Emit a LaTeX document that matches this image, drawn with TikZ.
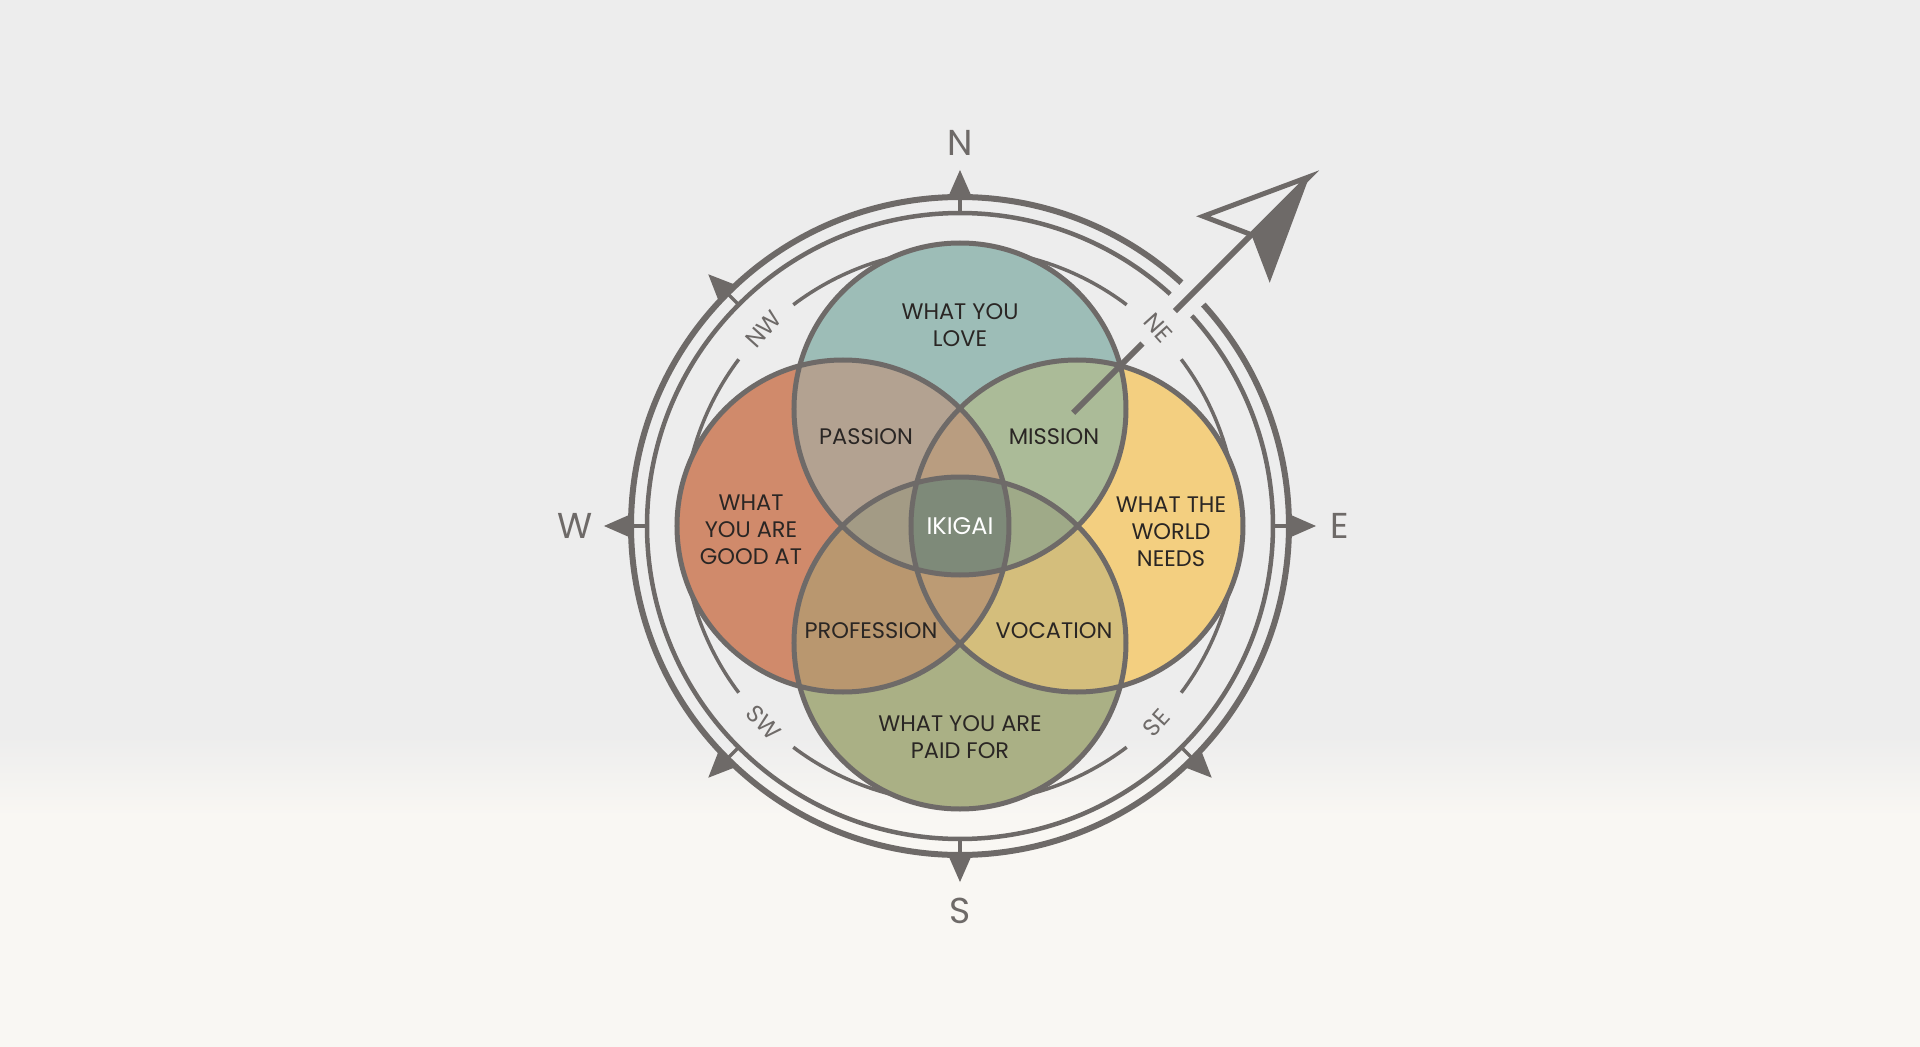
\documentclass[tikz,border=0pt]{standalone}
\usepackage{fontspec}
\setmainfont{Poppins}
\usepackage{xcolor}
\usepackage{tikz}
\usetikzlibrary{positioning,calc}
\definecolor{cLine}{HTML}{6E6A68}
\definecolor{cText}{HTML}{2A2624}
\definecolor{cBgTop}{HTML}{EDEDED}
\definecolor{cBgBot}{HTML}{F9F7F3}
\definecolor{cLove}{HTML}{9DBDB7}
\definecolor{cGood}{HTML}{D08A6B}
\definecolor{cWorld}{HTML}{F3CF80}
\definecolor{cPaid}{HTML}{AAB085}
\definecolor{cPassion}{HTML}{B3A291}
\definecolor{cMission}{HTML}{ABBB98}
\definecolor{cProf}{HTML}{B9976F}
\definecolor{cVoc}{HTML}{D4BE7C}
\definecolor{cTLR}{HTML}{B99D80}
\definecolor{cTLB}{HTML}{A39B85}
\definecolor{cTRB}{HTML}{9FAA88}
\definecolor{cLRB}{HTML}{BC9B74}
\definecolor{cIki}{HTML}{7E8A79}
\newcommand{\vennT}{(0,117) circle[radius=166]}
\newcommand{\vennL}{(-117,0) circle[radius=166]}
\newcommand{\vennR}{(117,0) circle[radius=166]}
\newcommand{\vennB}{(0,-117) circle[radius=166]}
\tikzset{
  lbl/.style    ={font=\fontsize{22.5}{27}\selectfont, text=cText, align=center, inner sep=0pt},
  ikilbl/.style ={lbl, text=white, font=\fontsize{24}{27}\selectfont},
  dirlbl/.style ={font=\fontsize{36}{36}\selectfont, text=cLine, inner sep=0pt},
  sublbl/.style ={font=\fontsize{24}{24}\selectfont, text=cLine, inner sep=0pt},
  venn/.style   ={draw=cLine, line width=5pt},
  ringA/.style  ={draw=cLine, line width=6pt},
  ringB/.style  ={draw=cLine, line width=4.5pt},
  ringC/.style  ={draw=cLine, line width=3.5pt},
  tickln/.style ={draw=cLine, line width=3.5pt},
  shaft/.style  ={draw=cLine, line width=6pt},
}

\begin{document}
\begin{tikzpicture}[x=1pt,y=1pt]
  \useasboundingbox (-960,-521) rectangle (960,526);
  % background
  \fill[cBgTop] (-960,-210) rectangle (960,526);
  \shade[top color=cBgTop, bottom color=cBgBot] (-960,-290) rectangle (960,-210);
  \fill[cBgBot] (-960,-521) rectangle (960,-290);
  % compass rings
  \draw[ringA] (47.7:329) arc[start angle=47.7, end angle=402.3, radius=329];
  \draw[ringB] (47.8:313) arc[start angle=47.8, end angle=402.2, radius=313];
  \foreach \a [evaluate=\a as \s using \a+8, evaluate=\a as \e using \a+82] in {45,135,225,315}
    \draw[ringC] (\s:277) arc[start angle=\s, end angle=\e, radius=277];
  \foreach \a in {0,90,180,270,135,225,315}{
    \draw[tickln] (\a:313) -- (\a:329);
    \fill[cLine] ($(\a:331)+(\a+90:11)$) -- ($(\a:331)+(\a-90:11)$) -- (\a:356) -- cycle;
  }
  % venn regions
  \fill[cLove] \vennT; \fill[cGood] \vennL; \fill[cWorld] \vennR; \fill[cPaid] \vennB;
  \begin{scope}\clip \vennT; \fill[cPassion] \vennL; \end{scope}
  \begin{scope}\clip \vennT; \fill[cMission] \vennR; \end{scope}
  \begin{scope}\clip \vennB; \fill[cProf] \vennL; \end{scope}
  \begin{scope}\clip \vennB; \fill[cVoc] \vennR; \end{scope}
  \begin{scope}\clip \vennT; \clip \vennL; \fill[cTLR] \vennR; \end{scope}
  \begin{scope}\clip \vennT; \clip \vennL; \fill[cTLB] \vennB; \end{scope}
  \begin{scope}\clip \vennT; \clip \vennR; \fill[cTRB] \vennB; \end{scope}
  \begin{scope}\clip \vennL; \clip \vennR; \fill[cLRB] \vennB; \end{scope}
  \begin{scope}\clip \vennT; \clip \vennL; \clip \vennR; \fill[cIki] \vennB; \end{scope}
  \draw[venn] \vennT; \draw[venn] \vennL; \draw[venn] \vennR; \draw[venn] \vennB;
  % labels
  \node[lbl] (love) at (0,201) {WHAT YOU\\LOVE};
  \node[lbl] (good) at (-209,-4) {WHAT\\YOU ARE\\GOOD AT};
  \node[lbl] (world) at (211,-6) {WHAT THE\\WORLD\\NEEDS};
  \node[lbl] (paid) at (0,-211) {WHAT YOU ARE\\PAID FOR};
  \node[lbl] (passion) at (-94,89) {PASSION};
  \node[lbl] (mission) at (94,89) {MISSION};
  \node[lbl] (prof) at (-89,-105) {PROFESSION};
  \node[lbl] (voc) at (94,-105) {VOCATION};
  \node[ikilbl] (ikigai) at (0,0) {IKIGAI};
  % compass points
  \node[dirlbl] (N) at (90:383) {N};
  \node[dirlbl] (S) at (270:385) {S};
  \node[dirlbl] (W) at (180:385) {W};
  \node[dirlbl] (E) at (0:380) {E};
  \node[sublbl,rotate=48] (NW) at (135:278) {NW};
  \node[sublbl,rotate=-48] (NE) at (45:280) {NE};
  \node[sublbl,rotate=-48] (SW) at (225:278) {SW};
  \node[sublbl,rotate=48] (SE) at (315:278) {SE};
  % pointer
  \begin{scope}[rotate=45]
    \coordinate (tail) at (160,0);
    \coordinate (cut1) at (258,0);
    \coordinate (cut2) at (304,0);
    \coordinate (notch) at (412,0);
    \coordinate (tip) at (494,0);
    \coordinate (wingL) at (391,47);
    \coordinate (wingR) at (391,-47);
    \draw[shaft] (tail) -- (cut1);
    \draw[shaft] (cut2) -- (notch);
    \fill[cLine] (tip) -- (notch) -- (wingR) -- cycle;
    \draw[cLine, line width=5pt, line join=miter] (tip) -- (wingL) -- (notch) -- cycle;
  \end{scope}
\end{tikzpicture}
\end{document}
